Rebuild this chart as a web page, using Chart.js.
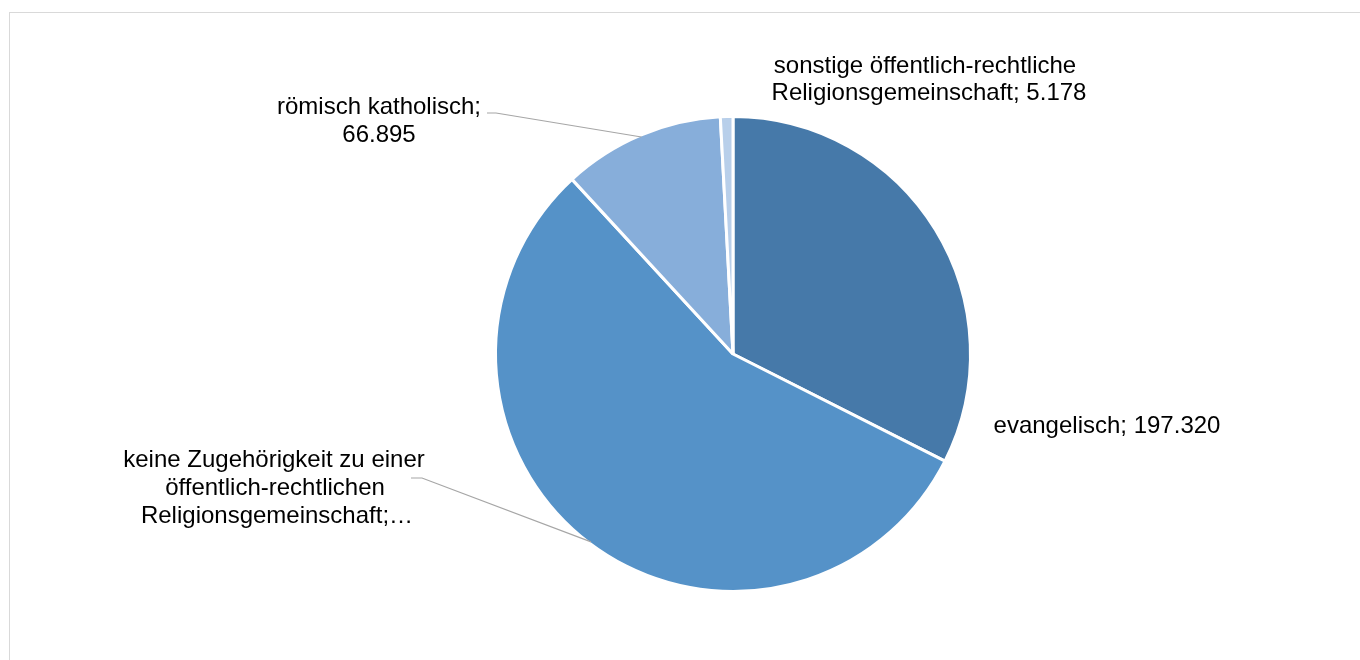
<!DOCTYPE html>
<html><head><meta charset="utf-8">
<script src="https://cdn.jsdelivr.net/npm/chart.js@4"></script>
<style>
html,body{margin:0;padding:0;background:#fff;}
#wrap{position:relative;width:1360px;height:660px;overflow:hidden;}
#frame{position:absolute;left:9px;top:12px;width:1400px;height:700px;border:1px solid #d9d9d9;box-sizing:border-box;}
canvas{position:absolute;left:0;top:0;}
</style></head><body>
<div id="wrap"><div id="frame"></div><canvas id="c" width="1360" height="660"></canvas></div>
<script>
// ---- data ----
const categories = [
  'evangelisch',
  'keine Zugehörigkeit zu einer öffentlich-rechtlichen Religionsgemeinschaft',
  'römisch katholisch',
  'sonstige öffentlich-rechtliche Religionsgemeinschaft'
];
const values = [197320, 338700, 66895, 5178];
const colors = ['#4679A9', '#5592C8', '#87AEDA', '#B8CFEA'];

function fmt(v){ return String(v).replace(/\B(?=(\d{3})+(?!\d))/g, '.'); }

// label text lines (as in the reference, the second label is truncated)
const labelLines = [
  [categories[0] + '; ' + fmt(values[0])],
  ['keine Zugehörigkeit zu einer', 'öffentlich-rechtlichen', 'Religionsgemeinschaft;…'],
  [categories[2] + ';', fmt(values[2])],
  ['sonstige öffentlich-rechtliche', 'Religionsgemeinschaft; ' + fmt(values[3])]
];

// ---- label layout (positions only) ----
const labelLayout = [
  {lines: [{x: 1107, y: 426}], leader: null},
  {lines: [{x: 274, y: 460}, {x: 275, y: 488}, {x: 277, y: 516}], leader: [[411, 478], [422, 478]]},
  {lines: [{x: 379, y: 107}, {x: 379, y: 135}], leader: [[487, 113], [496, 113]]},
  {lines: [{x: 925, y: 66}, {x: 929, y: 93}], leader: null}
];

const labelPlugin = {
  id: 'pieLabels',
  afterDatasetsDraw(chart){
    const ctx = chart.ctx;
    const arcs = chart.getDatasetMeta(0).data;
    ctx.save();
    // leader lines
    ctx.strokeStyle = '#A6A6A6';
    ctx.lineWidth = 1.2;
    labelLayout.forEach((lay, i) => {
      if (!lay.leader) return;
      const a = arcs[i];
      const p = a.getProps(['x','y','startAngle','endAngle','outerRadius'], true);
      const mid = (p.startAngle + p.endAngle) / 2;
      const r = p.outerRadius - 2;
      ctx.beginPath();
      ctx.moveTo(lay.leader[0][0], lay.leader[0][1]);
      for (let k = 1; k < lay.leader.length; k++) ctx.lineTo(lay.leader[k][0], lay.leader[k][1]);
      ctx.lineTo(p.x + Math.cos(mid) * r, p.y + Math.sin(mid) * r);
      ctx.stroke();
    });
    // texts
    ctx.fillStyle = '#000';
    ctx.font = '24px "Liberation Sans", Arial, sans-serif';
    ctx.textAlign = 'center';
    ctx.textBaseline = 'middle';
    labelLayout.forEach((lay, i) => {
      labelLines[i].forEach((t, k) => {
        const pos = lay.lines[k];
        ctx.fillText(t, pos.x, pos.y);
      });
    });
    ctx.restore();
  }
};

new Chart(document.getElementById('c'), {
  type: 'pie',
  data: {
    labels: categories,
    datasets: [{
      data: values,
      backgroundColor: colors,
      borderColor: '#ffffff',
      borderWidth: 3
    }]
  },
  options: {
    responsive: false,
    animation: false,
    layout: {padding: {left: 494, right: 388, top: 115, bottom: 67}},
    plugins: {legend: {display: false}, tooltip: {enabled: false}}
  },
  plugins: [labelPlugin]
});
</script>
</body></html>
